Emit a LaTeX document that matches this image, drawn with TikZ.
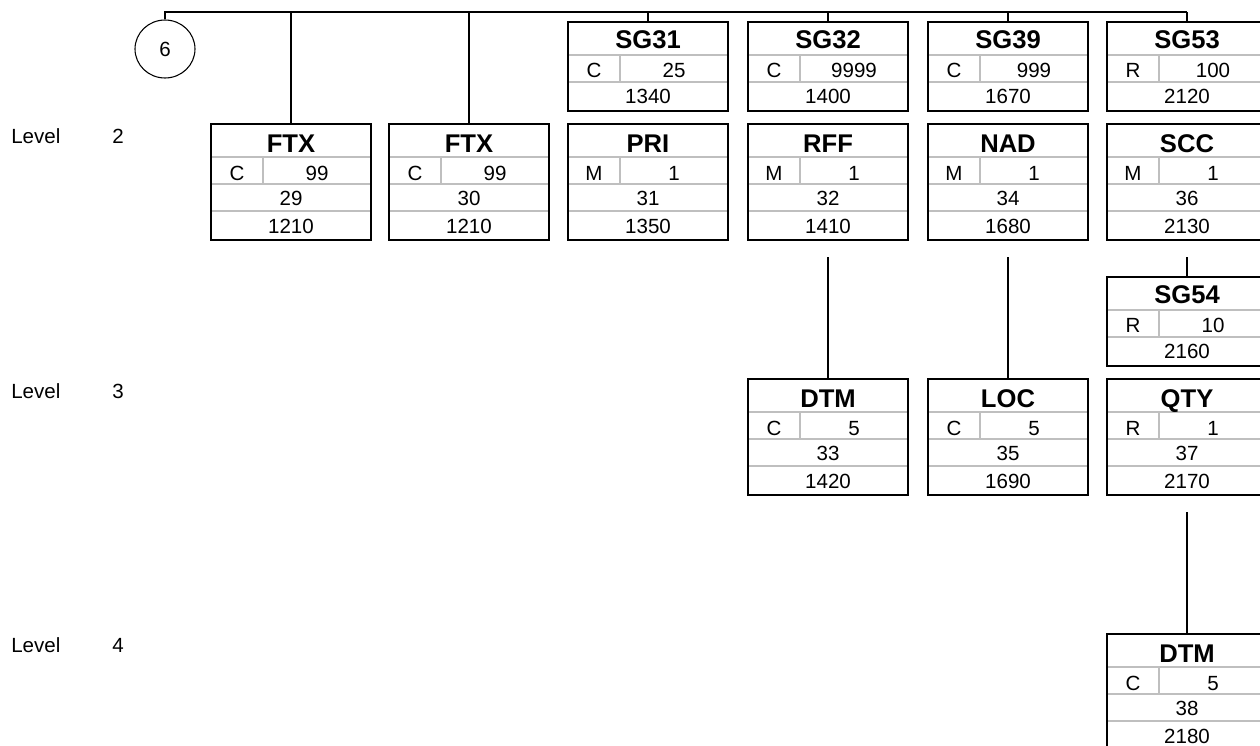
\documentclass[tikz,border=0pt]{standalone}
\usepackage{fontspec}
\setmainfont{Liberation Sans}
\usetikzlibrary{shapes.geometric,calc}
\tikzset{
  frame/.style={draw=black, line width=1.9pt, fill=none},
  inner/.style={draw=black!25, line width=1.2pt},
  conn/.style={draw=black, line width=1.9pt},
  ttl/.style={anchor=base, inner sep=0pt, font=\fontsize{19.2pt}{21pt}\selectfont\bfseries},
  txt/.style={anchor=base, inner sep=0pt, font=\fontsize{15.4pt}{17pt}\selectfont},
  lvl/.style={anchor=base west, inner sep=0pt, font=\fontsize{15.4pt}{17pt}\selectfont},
}
% segment box: name, x, y, title, status, repeat, position, tag
\newcommand\segbox[8]{%
  \draw[inner] (#2,#3+33) -- (#2+160,#3+33);
  \draw[inner] (#2,#3+60) -- (#2+160,#3+60);
  \draw[inner] (#2,#3+87) -- (#2+160,#3+87);
  \draw[inner] (#2+52,#3+33) -- (#2+52,#3+60);
  \node[frame, minimum width=120pt, minimum height=87pt, inner sep=0pt] (#1) at (#2+80,#3+58) {};
  \node[ttl] (#1-t) at (#2+80,#3+28) {#4};
  \node[txt] (#1-s) at (#2+26,#3+56) {#5};
  \node[txt] (#1-r) at (#2+106,#3+56) {#6};
  \node[txt] (#1-p) at (#2+80,#3+81) {#7};
  \node[txt] (#1-g) at (#2+80,#3+109) {#8};
}
% group box: name, x, y, title, status, repeat, tag
\newcommand\grpbox[7]{%
  \draw[inner] (#2,#3+33) -- (#2+160,#3+33);
  \draw[inner] (#2,#3+60) -- (#2+160,#3+60);
  \draw[inner] (#2+52,#3+33) -- (#2+52,#3+60);
  \node[frame, minimum width=120pt, minimum height=66.75pt, inner sep=0pt] (#1) at (#2+80,#3+44.5) {};
  \node[ttl] (#1-t) at (#2+80,#3+26.5) {#4};
  \node[txt] (#1-s) at (#2+26,#3+55.5) {#5};
  \node[txt] (#1-r) at (#2+106,#3+55.5) {#6};
  \node[txt] (#1-g) at (#2+80,#3+81.5) {#7};
}
\begin{document}
\begin{tikzpicture}[x=0.75pt,y=-0.75pt]
\clip (0,0) rectangle (1260,746);
\fill[white] (0,0) rectangle (1260,746);

% level labels
\node[lvl] (l2) at (11,143) {Level};
\node[lvl] (l2n) at (112,143) {2};
\node[lvl] (l3) at (11,398) {Level};
\node[lvl] (l3n) at (112,398) {3};
\node[lvl] (l4) at (11,652) {Level};
\node[lvl] (l4n) at (112,652) {4};

% circle
\node[ellipse, draw=black, line width=0.8pt, minimum width=45pt, minimum height=43.5pt, inner sep=0pt,
      font=\fontsize{15.4pt}{17pt}\selectfont] (c6) at (165,49) {6};

% group boxes (top)
\grpbox{sg31}{568}{22}{SG31}{C}{25}{1340}
\grpbox{sg32}{748}{22}{SG32}{C}{9999}{1400}
\grpbox{sg39}{928}{22}{SG39}{C}{999}{1670}
\grpbox{sg53}{1107}{22}{SG53}{R}{100}{2120}

% level 2
\segbox{ftxa}{211}{124}{FTX}{C}{99}{29}{1210}
\segbox{ftxb}{389}{124}{FTX}{C}{99}{30}{1210}
\segbox{pri}{568}{124}{PRI}{M}{1}{31}{1350}
\segbox{rff}{748}{124}{RFF}{M}{1}{32}{1410}
\segbox{nad}{928}{124}{NAD}{M}{1}{34}{1680}
\segbox{scc}{1107}{124}{SCC}{M}{1}{36}{2130}

% SG54
\grpbox{sg54}{1107}{277}{SG54}{R}{10}{2160}

% level 3
\segbox{dtma}{748}{379}{DTM}{C}{5}{33}{1420}
\segbox{loc}{928}{379}{LOC}{C}{5}{35}{1690}
\segbox{qty}{1107}{379}{QTY}{R}{1}{37}{2170}

% level 4
\segbox{dtmb}{1107}{634}{DTM}{C}{5}{38}{2180}

% connectors
\coordinate (bus) at (1187,12);
\draw[conn] (c6.north) |- (bus);
\draw[conn] (ftxa.north) -- (ftxa.north |- bus);
\draw[conn] (ftxb.north) -- (ftxb.north |- bus);
\draw[conn] (sg31.north) -- (sg31.north |- bus);
\draw[conn] (sg32.north) -- (sg32.north |- bus);
\draw[conn] (sg39.north) -- (sg39.north |- bus);
\draw[conn] (sg53.north) -- (sg53.north |- bus);

\coordinate (rffd) at (828,257);
\coordinate (nadd) at (1008,257);
\coordinate (sccd) at (1187,257);
\coordinate (qtyd) at (1187,512);
\draw[conn] (rffd) -- (dtma.north);
\draw[conn] (nadd) -- (loc.north);
\draw[conn] (sccd) -- (sg54.north);
\draw[conn] (qtyd) -- (dtmb.north);
\end{tikzpicture}
\end{document}
